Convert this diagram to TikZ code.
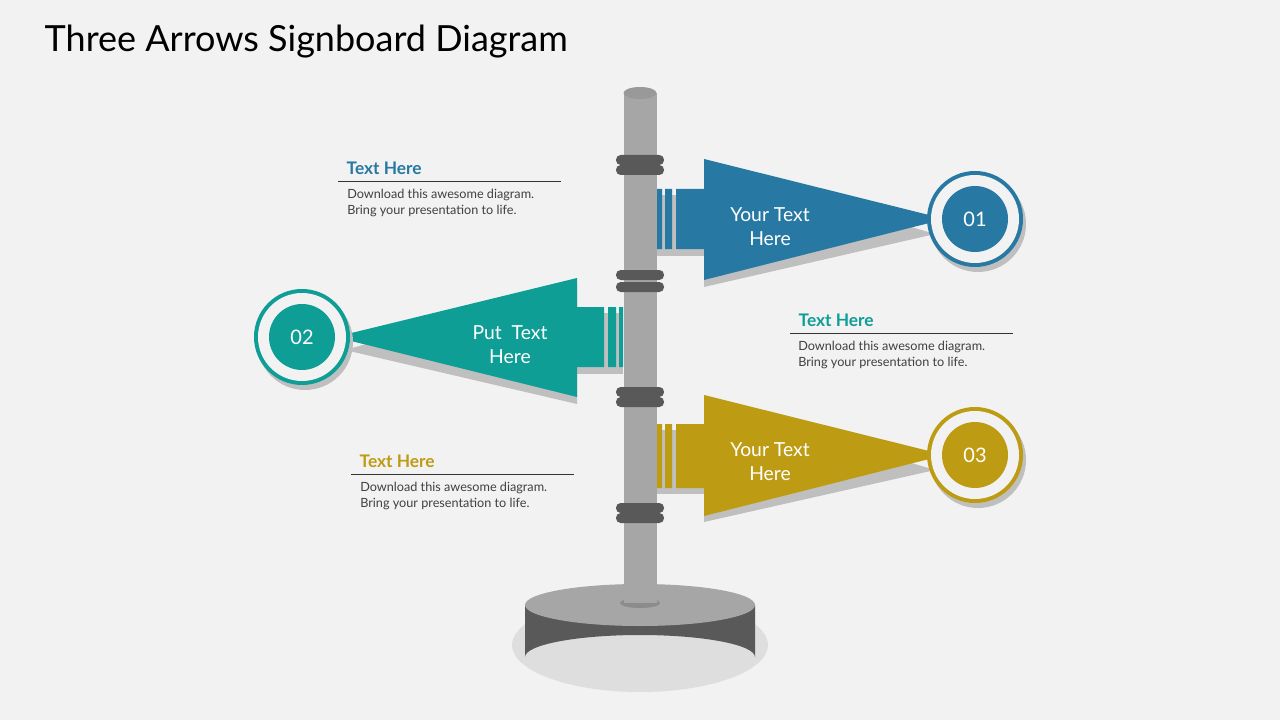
\documentclass[tikz,border=0pt]{standalone}
\usepackage{fontspec}
\setmainfont{Lato}
\definecolor{bg}{HTML}{F2F2F2}
\definecolor{cb}{HTML}{2779A3}
\definecolor{ct}{HTML}{0E9E96}
\definecolor{cg}{HTML}{BD9C14}
\definecolor{pole}{HTML}{A6A6A6}
\definecolor{dk}{HTML}{595959}
\definecolor{sh}{HTML}{BFBFBF}
\begin{document}
\begin{tikzpicture}[x=0.75pt,y=-0.75pt,
  ring/.style={fill=dk,rounded corners=3.5pt},
  lbl/.style={text=white,font=\fontsize{14.5}{18}\selectfont,align=center},
  num/.style={text=white,font=\fontsize{15}{18}\selectfont},
  ttl/.style={font=\bfseries\fontsize{13}{15}\selectfont,anchor=west},
  body/.style={font=\fontsize{9.5}{12}\selectfont,anchor=north west,align=left,text=black!75,inner sep=0pt}]
\fill[bg] (0,0) rectangle (1280,720);
\node[anchor=west,font=\fontsize{27}{30}\selectfont] (title) at (40,42) {Three Arrows Signboard Diagram};
% base
\fill[black!13] (640,645) ellipse (128 and 47);
\fill[dk] (525,605) -- (525,657) arc (180:360:115 and 22) -- (755,605) -- cycle;
\fill[pole] (640,605) ellipse (115 and 21);
\fill[black!45] (640,603) ellipse (20 and 5);
% pole
\fill[pole] (624,93) rectangle (657,603);
\fill[black!40] (640,93) ellipse (16.5 and 6);
% rings
\foreach \y in {155,165,270,282,387,397,503,513}
  \fill[ring] (616,\y) rectangle (664,\y+10);
% blue arrow
\begin{scope}
\fill[sh] (657,195) rectangle (705,256);
\fill[sh] (704,166) -- (704,287) -- (935,234) -- cycle;
\fill[cb] (657,189) rectangle (662,249) (665,189) rectangle (672,249) (676,189) rectangle (705,249);
\fill[cb] (704,159) -- (704,280) -- (945,219) -- cycle;
\fill[sh] (978,224) circle (48);
\fill[cb] (975,219) circle (48);
\fill[bg] (975,219) circle (44);
\fill[cb] (975,219) circle (33);
\end{scope}
\node[lbl] (t1) at (770,227) {Your Text\\Here};
\node[num] (n1) at (975,219) {01};
% teal arrow
\fill[sh] (576,313) rectangle (623,374);
\fill[sh] (577,285) -- (577,404) -- (345,350) -- cycle;
\fill[ct] (576,307) rectangle (604,367) (608,307) rectangle (616,367) (619,307) rectangle (623,367);
\fill[ct] (577,278) -- (577,397) -- (335,337) -- cycle;
\fill[sh] (305,342) circle (48);
\fill[ct] (302,337) circle (48);
\fill[bg] (302,337) circle (44);
\fill[ct] (302,337) circle (33);
\node[lbl] (t2) at (510,345) {Put\ \ Text\\Here};
\node[num] (n2) at (302,337) {02};
% gold arrow
\fill[sh] (657,430) rectangle (705,494);
\fill[sh] (704,401) -- (704,522) -- (935,470) -- cycle;
\fill[cg] (657,424) rectangle (662,488) (665,424) rectangle (672,488) (676,424) rectangle (705,488);
\fill[cg] (704,395) -- (704,516) -- (945,455) -- cycle;
\fill[sh] (978,460) circle (48);
\fill[cg] (975,455) circle (48);
\fill[bg] (975,455) circle (44);
\fill[cg] (975,455) circle (33);
\node[lbl] (t3) at (770,462) {Your Text\\Here};
\node[num] (n3) at (975,455) {03};
% text blocks
\node[ttl,text=cb] (h1) at (342,168) {Text Here};
\draw[black!80,line width=0.6pt] (338,181) -- (561,181);
\node[body] (b1) at (347,189) {Download this awesome diagram.\\Bring your presentation to life.};
\node[ttl,text=ct] (h2) at (794,320) {Text Here};
\draw[black!80,line width=0.6pt] (790,333) -- (1013,333);
\node[body] (b2) at (798,341) {Download this awesome diagram.\\Bring your presentation to life.};
\node[ttl,text=cg] (h3) at (355,461) {Text Here};
\draw[black!80,line width=0.6pt] (351,474) -- (574,474);
\node[body] (b3) at (360,482) {Download this awesome diagram.\\Bring your presentation to life.};
\end{tikzpicture}
\end{document}
